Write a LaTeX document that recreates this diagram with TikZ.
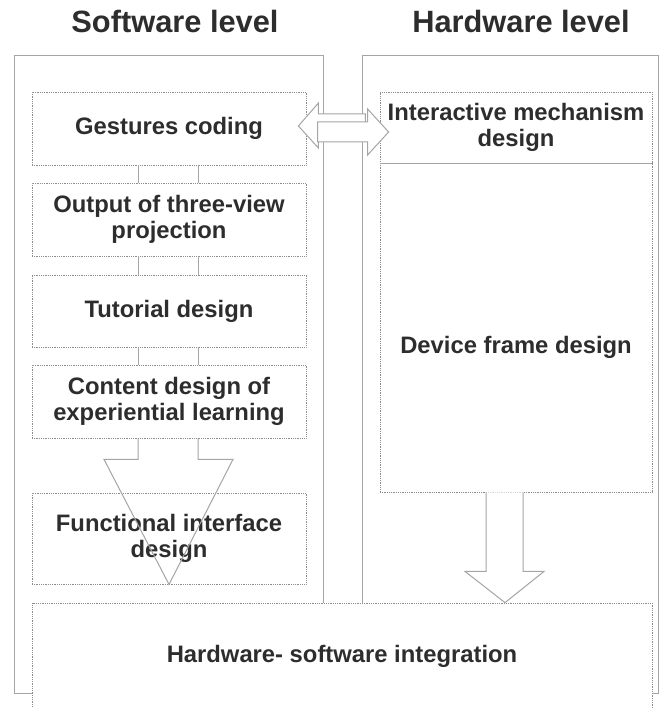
\documentclass[tikz,border=0pt]{standalone}
\usepackage{fontspec}
\setmainfont{Liberation Sans}
\usetikzlibrary{calc}

\definecolor{inkgray}{RGB}{45,45,45}
\definecolor{framegray}{RGB}{165,165,165}
\definecolor{dotgray}{RGB}{140,140,140}

\tikzset{every picture/.style={line width=0.75pt}}
\tikzset{
  panel/.style={draw=framegray, line width=1pt},
  stagetext/.style={font=\fontsize{23.8}{26}\selectfont\bfseries, text=inkgray, align=center},
  stagebox/.style={stagetext, draw=dotgray, densely dotted, line width=0.8pt, fill=white,
    minimum width=274, minimum height=73, inner sep=0pt},
  leveltitle/.style={font=\fontsize{30.8}{34}\selectfont\bfseries, text=inkgray, inner sep=0pt},
  link/.style={draw=framegray, line width=1pt},
  blockarrow/.style={draw=framegray, line width=1pt, fill=white, line join=miter},
  bigarrow/.style={draw=framegray, line width=1pt, line join=miter},
}

\begin{document}
\begin{tikzpicture}[x=1pt,y=1pt,yscale=-1,xscale=1]
\useasboundingbox (0,0) rectangle (660,708);

%Shape: Rectangle [software panel]
\draw [panel] (14,56) rectangle (323,693);
%Shape: Rectangle [hardware panel]
\draw [panel] (362,56) rectangle (658,693);

% Text Node
\node [leveltitle] (swtitle) at (175,21) {Software level};
% Text Node
\node [leveltitle] (hwtitle) at (521,21) {Hardware level};

%software stages
\node [stagebox] (gest) at (169,128.5) {Gestures coding};
\node [stagebox] (proj) at (169,219.5) {Output of three-view\\projection};
\node [stagebox, minimum height=72] (tut) at (169,311) {Tutorial design};
\node [stagebox] (cont) at (169,401.5) {Content design of\\experiential learning};
\node [stagebox, minimum height=91] (func) at (169,538.5) {Functional interface\\design};

%links between the stages
\foreach \a/\b in {gest/proj, proj/tut, tut/cont}{
  \draw [link] ($(\a.south)+(-31,0)$) -- ($(\b.north)+(-31,0)$);
  \draw [link] ($(\a.south)+(29,0)$) -- ($(\b.north)+(29,0)$);
}

%Big arrow into functional interface design
\draw [bigarrow] ($(cont.south)+(-31,0)$) -- ++(0,21) -- ++(-34,0) -- (func.south)
  -- ($(cont.south)+(64,21)$) -- ++(-35,0) -- ($(cont.south)+(29,0)$);

%hardware stages
\node [stagebox, minimum width=272, minimum height=71] (inter) at (516,127.5) {Interactive mechanism\\design};
\node [stagebox, minimum width=272, minimum height=329,
  label={[stagetext, yshift=-20pt]center:Device frame design}] (frame) at (516,327.5) {};
\draw [panel] (inter.south west) -- (inter.south east);

%integration box
\node [stagebox, minimum width=620, minimum height=106] (integ) at (342,656) {Hardware- software integration};

%Arrow down to the integration
\draw [blockarrow] ($(frame.south)+(-30,0)$) -- ++(0,79) -- ++(-21,0) -- ($(integ.north)+(163,0)$)
  -- ($(frame.south)+(28,79)$) -- ++(-21,0) -- ($(frame.south)+(7,0)$);

%Double arrow between gestures and interaction
\draw [blockarrow] ($(gest.east)+(-8,-2.5)$) -- ++(20,-23) -- ++(0,11) -- ++(47,0) -- ++(0,23)
  -- ++(-47,0) -- ++(0,11) -- cycle;
\draw [blockarrow] ($(inter.west)+(9,4.5)$) -- ++(-21,-23) -- ++(0,13) -- ++(-50,0) -- ++(0,20)
  -- ++(50,0) -- ++(0,13) -- cycle;
\end{tikzpicture}
\end{document}
